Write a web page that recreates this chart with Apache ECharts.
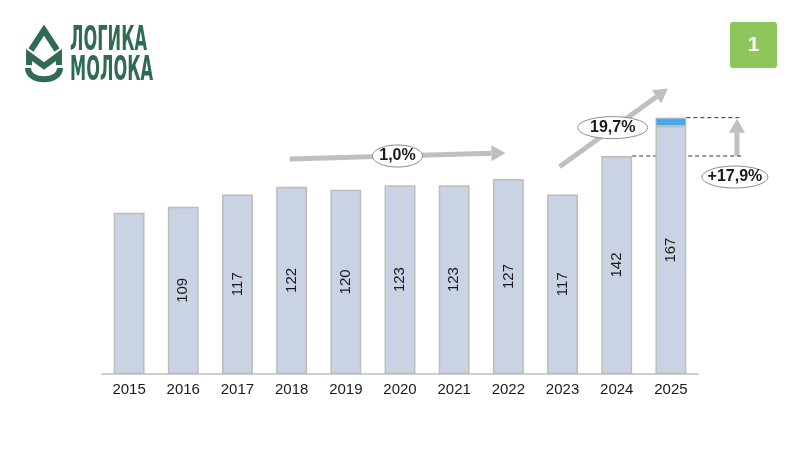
<!DOCTYPE html>
<html>
<head>
<meta charset="utf-8">
<script src="https://cdn.jsdelivr.net/npm/echarts@6/dist/echarts.min.js"></script>
<style>
  html, body { margin: 0; padding: 0; background: #fff; }
  #chart { width: 800px; height: 456px; }
</style>
</head>
<body>
<div id="chart"></div>
<script>
// data
var years = ['2015', '2016', '2017', '2018', '2019', '2020', '2021', '2022', '2023', '2024', '2025'];
var baseValues = [105, 109, 117, 122, 120, 123, 123, 127, 117, 142, 161.5];
var capValues = ['-', '-', '-', '-', '-', '-', '-', '-', '-', '-', 5.5];
var barLabels = ['', '109', '117', '122', '120', '123', '123', '127', '117', '142', '167'];
var trendLabels = ['1,0%', '19,7%', '+17,9%'];

var dom = document.getElementById('chart');
var myChart = echarts.init(dom, null, { renderer: 'canvas' });

var option = {
    animation: false,
    backgroundColor: '#fff',
    grid: {
        left: 102,
        right: 102,
        top: 67,
        bottom: 82
    },
    xAxis: {
        type: 'category',
        data: years,
        axisLine: { lineStyle: { color: '#bfbfbf', width: 1.5 } },
        axisTick: { show: false },
        axisLabel: {
            color: '#1a1a1a',
            fontSize: 15,
            fontFamily: 'Liberation Sans',
            margin: 8
        }
    },
    yAxis: {
        type: 'value',
        min: 0,
        max: 200,
        show: false
    },
    series: [
        {
            type: 'bar',
            stack: 'total',
            barWidth: '57%',
            data: baseValues,
            itemStyle: {
                color: '#c9d3e3',
                borderColor: '#bcbcbc',
                borderWidth: 1.5
            },
            label: {
                show: true,
                position: 'inside',
                rotate: 90,
                color: '#1a1a1a',
                fontSize: 15,
                fontFamily: 'Liberation Sans',
                formatter: function (p) { return barLabels[p.dataIndex]; }
            }
        },
        {
            type: 'bar',
            stack: 'total',
            barWidth: '57%',
            data: capValues,
            itemStyle: {
                color: '#4aa8e8',
                borderColor: '#bcbcbc',
                borderWidth: 1
            }
        }
    ]
};

myChart.setOption(option);

// annotations anchored to the data scale
function px(i, v) {
    return myChart.convertToPixel({ seriesIndex: 0 }, [i, v]);
}

var arrowColor = '#bfbfbf';

function arrow(a, b) {
    var ang = Math.atan2(b[1] - a[1], b[0] - a[0]);
    var len = 14, half = 8;
    var base = [b[0] - len * Math.cos(ang), b[1] - len * Math.sin(ang)];
    var nx = -Math.sin(ang), ny = Math.cos(ang);
    return [
        {
            type: 'line',
            shape: { x1: a[0], y1: a[1], x2: base[0], y2: base[1] },
            style: { stroke: arrowColor, lineWidth: 5 }
        },
        {
            type: 'polygon',
            shape: { points: [b, [base[0] + nx * half, base[1] + ny * half], [base[0] - nx * half, base[1] - ny * half]] },
            style: { fill: arrowColor }
        }
    ];
}

function bubble(c, rx, text) {
    return [
        {
            type: 'ellipse',
            shape: { cx: c[0], cy: c[1], rx: rx, ry: 11 },
            style: { fill: '#fff', stroke: '#8a8a8a', lineWidth: 1 }
        },
        {
            type: 'text',
            x: c[0], y: c[1],
            style: {
                text: text,
                fill: '#1a1a1a',
                font: 'bold 16px "Liberation Sans"',
                align: 'center',
                verticalAlign: 'middle'
            }
        }
    ];
}

var step = px(1, 0)[0] - px(0, 0)[0];
var halfBar = step * 0.57 / 2;

// arrow 1: 2018..2022
var a1s = px(3, 140), a1e = px(7, 144);
a1s[0] -= 2; a1e[0] -= 3;
// arrow 2: 2023..2025
var a2s = px(8, 135), a2e = px(10, 186);
a2s[0] -= 3; a2e[0] -= 3;

var top24 = px(9, 142), top25 = px(10, 167);
var vx = top25[0] + 66;
var dashEnd = vx + 5;

var graphics = [];
graphics = graphics.concat(arrow(a1s, a1e));
graphics = graphics.concat(arrow(a2s, a2e));
graphics = graphics.concat(arrow([vx, top24[1]], [vx, top25[1] + 1]));

graphics.push({
    type: 'line',
    shape: { x1: top24[0] + halfBar, y1: top24[1], x2: dashEnd, y2: top24[1] },
    style: { stroke: '#333', lineWidth: 1, lineDash: [4, 3] }
});
graphics.push({
    type: 'line',
    shape: { x1: top25[0] + halfBar, y1: top25[1], x2: dashEnd, y2: top25[1] },
    style: { stroke: '#333', lineWidth: 1, lineDash: [4, 3] }
});

graphics = graphics.concat(bubble([(a1s[0] + a1e[0]) / 2, (a1s[1] + a1e[1]) / 2], 25, trendLabels[0]));
graphics = graphics.concat(bubble([(a2s[0] + a2e[0]) / 2 - 1, (a2s[1] + a2e[1]) / 2 + 0], 35, trendLabels[1]));
graphics = graphics.concat(bubble([vx - 2, top24[1] + 21], 33, trendLabels[2]));

// badge
graphics.push({
    type: 'rect',
    shape: { x: 730, y: 22, width: 47, height: 46, r: 3 },
    style: { fill: '#8dc65b' }
});
graphics.push({
    type: 'text',
    x: 753.5, y: 45,
    style: {
        text: '1',
        fill: '#fff',
        font: 'bold 21px "Liberation Sans"',
        align: 'center',
        verticalAlign: 'middle'
    }
});

// logo
var green = '#2f6b50';
graphics.push({
    type: 'polyline',
    shape: { points: [[31, 50], [44, 30], [57, 50]] },
    style: { stroke: green, fill: null, lineWidth: 6, lineJoin: 'miter' }
});
graphics.push({
    type: 'polyline',
    shape: { points: [[29, 65], [29, 55], [44, 66], [59, 55], [59, 65]] },
    style: { stroke: green, fill: null, lineWidth: 6, lineJoin: 'miter' }
});
graphics.push({
    type: 'bezierCurve',
    shape: { x1: 28, y1: 68, cpx1: 28, cpy1: 83, cpx2: 60, cpy2: 83, x2: 60, y2: 68 },
    style: { stroke: green, fill: null, lineWidth: 6 }
});
graphics.push({
    type: 'text',
    x: 70, y: 24,
    scaleX: 0.53,
    style: {
        text: 'ЛОГИКА',
        fill: green,
        font: 'bold 34px "DejaVu Sans Condensed"',
        verticalAlign: 'top'
    }
});
graphics.push({
    type: 'text',
    x: 70, y: 54,
    scaleX: 0.53,
    style: {
        text: 'МОЛОКА',
        fill: green,
        font: 'bold 34px "DejaVu Sans Condensed"',
        verticalAlign: 'top'
    }
});

myChart.setOption({ graphic: graphics });
</script>
</body>
</html>
